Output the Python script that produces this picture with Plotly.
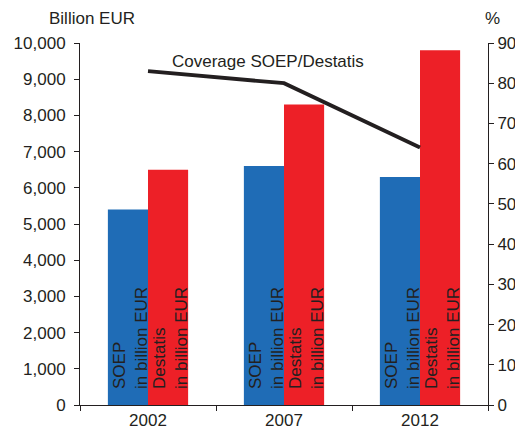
import plotly.graph_objects as go

years = ["2002", "2007", "2012"]
soep = [5400, 6600, 6300]
destatis = [6500, 8300, 9800]
coverage = [83, 80, 64]
soep_label = "SOEP<br>in billion EUR"
destatis_label = "Destatis<br>in billion EUR"
coverage_label = "Coverage SOEP/Destatis"

FONT = "Liberation Sans, Arial, sans-serif"
TXT = "#231f20"
FS = 17

fig = go.Figure()
fig.add_trace(go.Bar(
    x=years, y=soep, name="SOEP", marker=dict(color="#1f6cb6", line=dict(width=0)),
))
fig.add_trace(go.Bar(
    x=years, y=destatis, name="Destatis", marker=dict(color="#ed2027", line=dict(width=0)),
))
fig.add_trace(go.Scatter(
    x=years, y=coverage, yaxis="y2", mode="lines",
    line=dict(color=TXT, width=3.8), name="Coverage",
))

annotations = [
    dict(text="Billion EUR", xref="paper", yref="paper", x=0.03, y=1.069,
         xanchor="center", yanchor="middle", showarrow=False,
         font=dict(size=FS, color=TXT)),
    dict(text="%", xref="paper", yref="paper", x=1.01, y=1.069,
         xanchor="center", yanchor="middle", showarrow=False,
         font=dict(size=FS, color=TXT)),
    dict(text=coverage_label, xref="paper", yref="paper", x=0.461, y=0.950,
         xanchor="center", yanchor="middle", showarrow=False,
         font=dict(size=FS, color=TXT)),
]
for i, yr in enumerate(years):
    for label, shift in ((soep_label, -18), (destatis_label, 22)):
        annotations.append(dict(
            text=label, x=i, y=0, xref="x", yref="y", xshift=shift, yshift=14,
            xanchor="center", yanchor="bottom", textangle=-90, align="left",
            showarrow=False, font=dict(size=FS, color=TXT),
        ))

fig.update_layout(
    width=515, height=422,
    margin=dict(l=72, r=35, t=35, b=25, autoexpand=False),
    paper_bgcolor="white", plot_bgcolor="white",
    barmode="group", bargap=0.41, bargroupgap=0,
    showlegend=False,
    font=dict(family=FONT, size=FS, color=TXT),
    xaxis=dict(
        type="category", categoryorder="array", categoryarray=years,
        range=[-0.5, 2.5], showline=True, linecolor=TXT, linewidth=1,
        ticks="outside", ticklen=5, tickcolor=TXT, tickson="boundaries",
        showgrid=False, tickfont=dict(size=FS, color=TXT), automargin=False,
    ),
    yaxis=dict(
        range=[0, 10000], dtick=1000, tickformat=",d",
        showline=True, linecolor=TXT, linewidth=1,
        ticks="outside", ticklen=5, tickcolor=TXT, automargin=False,
        ticklabelstandoff=5,
        showgrid=False, zeroline=False, tickfont=dict(size=FS, color=TXT),
    ),
    yaxis2=dict(
        overlaying="y", side="right", range=[0, 90], dtick=10,
        showline=True, linecolor=TXT, linewidth=1,
        ticks="outside", ticklen=5, tickcolor=TXT, automargin=False,
        showgrid=False, zeroline=False, tickfont=dict(size=FS, color=TXT),
    ),
    annotations=annotations,
)

fig.write_html("out.html")
